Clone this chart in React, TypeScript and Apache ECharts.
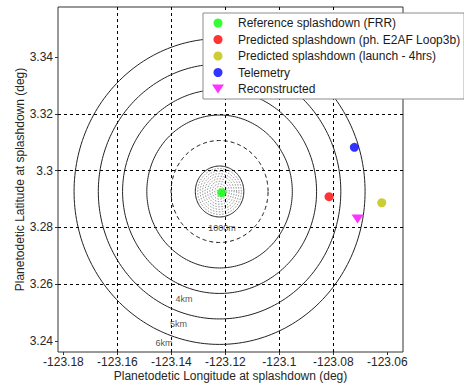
import React, { useEffect, useRef } from "react";
import * as echarts from "echarts";

// Axis ticks and visible extents (degrees)
const xTicks = [-123.18, -123.16, -123.14, -123.12, -123.1, -123.08, -123.06];
const yTicks = [3.24, 3.26, 3.28, 3.3, 3.32, 3.34];
const xRange = [-123.182, -123.0542];
const yRange = [3.2361, 3.3577];

// Range rings around the reference splashdown
const ringCentre = [-123.12215, 3.29267];
const KM_PER_DEG = 111.32;
const solidRingsKm = [1, 3, 4, 5, 6];
const dashedRingsKm = [2];
const innerRingsKm = [0.1, 0.2, 0.3, 0.4, 0.5, 0.6, 0.7, 0.8, 0.9];

// Ring annotations
const ringLabelText = ["1000m", "4km", "5km", "6km"];
const ringLabelLon = [-123.12122, -123.1353, -123.13733, -123.1427];
const ringLabelLat = [3.27996, 3.25474, 3.24592, 3.23933];

// Splashdown estimates
const pointNames = [
  "Reference splashdown (FRR)",
  "Predicted splashdown (ph. E2AF Loop3b)",
  "Predicted splashdown (launch - 4hrs)",
  "Telemetry",
  "Reconstructed",
];
const pointLon = [-123.12133, -123.08159, -123.06207, -123.07222, -123.07104];
const pointLat = [3.29224, 3.29083, 3.28871, 3.30825, 3.28296];
const pointColors = ["#00ff00", "#ff0000", "#bfbf00", "#0000ff", "#ff00ff"];

const TRIANGLE_DOWN = "path://M0,0L12,0L6,9Z";
const FONT = "Liberation Sans, Arial, sans-serif";

function ring(km: number): number[][] {
  const r = km / KM_PER_DEG;
  const pts: number[][] = [];
  for (let i = 0; i <= 240; i++) {
    const a = (i / 240) * Math.PI * 2;
    pts.push([ringCentre[0] + r * Math.cos(a), ringCentre[1] + r * Math.sin(a)]);
  }
  return pts;
}

export default function App() {
  const ref = useRef<HTMLDivElement>(null);

  useEffect(() => {
    if (!ref.current) return;
    const chart = echarts.init(ref.current, null, { renderer: "svg" });

    const ringSeries: any[] = [];
    innerRingsKm.forEach((km) =>
      ringSeries.push({
        type: "line",
        data: ring(km),
        showSymbol: false,
        silent: true,
        z: 2,
        lineStyle: { color: "#444", width: 0.6, type: [1.5, 1.5] },
      })
    );
    dashedRingsKm.forEach((km) =>
      ringSeries.push({
        type: "line",
        data: ring(km),
        showSymbol: false,
        silent: true,
        z: 2,
        lineStyle: { color: "#111", width: 1, type: [4, 3] },
      })
    );
    solidRingsKm.forEach((km) =>
      ringSeries.push({
        type: "line",
        data: ring(km),
        showSymbol: false,
        silent: true,
        z: 2,
        lineStyle: { color: "#222", width: 1, type: "solid" },
      })
    );

    const labelSeries = {
      type: "scatter",
      silent: true,
      symbolSize: 0,
      z: 3,
      data: ringLabelText.map((t, i) => ({ name: t, value: [ringLabelLon[i], ringLabelLat[i]] })),
      label: {
        show: true,
        position: "inside",
        formatter: (p: any) => p.name,
        fontFamily: FONT,
        fontSize: 9,
        color: "#222",
      },
    };

    const pointSeries = pointNames.map((name, i) => ({
      type: "scatter",
      name,
      z: 5,
      symbol: i === 4 ? TRIANGLE_DOWN : "circle",
      symbolSize: i === 4 ? [12, 9] : 9,
      itemStyle: { color: pointColors[i] },
      data: [[pointLon[i], pointLat[i]]],
    }));

    const axisCommon = {
      type: "value",
      nameLocation: "middle",
      nameMoveOverlap: false,
      nameTextStyle: { fontFamily: FONT, fontSize: 12, color: "#262626" },
      axisLine: { show: false },
      axisTick: { show: true, length: 3, lineStyle: { color: "#333" } },
      splitLine: {
        show: true,
        showMinLine: false,
        showMaxLine: false,
        lineStyle: { color: "#000", width: 1, type: [3, 3] },
      },
    };

    chart.setOption({
      animation: false,
      backgroundColor: "#ffffff",
      grid: {
        left: 58,
        right: 61,
        top: 7,
        bottom: 38,
        show: true,
        borderColor: "#333",
        borderWidth: 1,
        backgroundColor: "transparent",
        outerBoundsMode: "none",
      },
      legend: {
        orient: "vertical",
        left: 203,
        top: 13,
        padding: [3, 4, 3, 9],
        itemGap: 2.5,
        itemWidth: 30,
        itemHeight: 9,
        selectedMode: false,
        backgroundColor: "#ffffff",
        borderColor: "#8c8c8c",
        borderWidth: 1,
        borderRadius: 0,
        z: 10,
        textStyle: { fontFamily: FONT, fontSize: 12, color: "#1a1a1a", lineHeight: 14 },
        data: pointNames.map((name, i) => ({
          name,
          icon: i === 4 ? TRIANGLE_DOWN : "circle",
        })),
      },
      xAxis: {
        ...axisCommon,
        name: "Planetodetic Longitude at splashdown (deg)",
        nameGap: 18,
        min: xRange[0],
        max: xRange[1],
        axisTick: { ...axisCommon.axisTick, customValues: xTicks },
        axisLabel: {
          customValues: xTicks,
          margin: 4,
          fontFamily: FONT,
          fontSize: 12,
          color: "#262626",
        },
      },
      yAxis: {
        ...axisCommon,
        name: "Planetodetic Latitude at splashdown (deg)",
        nameGap: 32,
        min: yRange[0],
        max: yRange[1],
        axisTick: { ...axisCommon.axisTick, customValues: yTicks },
        axisLabel: {
          customValues: yTicks,
          margin: 5,
          fontFamily: FONT,
          fontSize: 12,
          color: "#262626",
        },
      },
      series: [...ringSeries, labelSeries, ...pointSeries],
    });

    return () => chart.dispose();
  }, []);

  return (
    <div
      ref={ref}
      style={{ position: "absolute", left: 0, top: 0, width: 464, height: 390 }}
    />
  );
}
